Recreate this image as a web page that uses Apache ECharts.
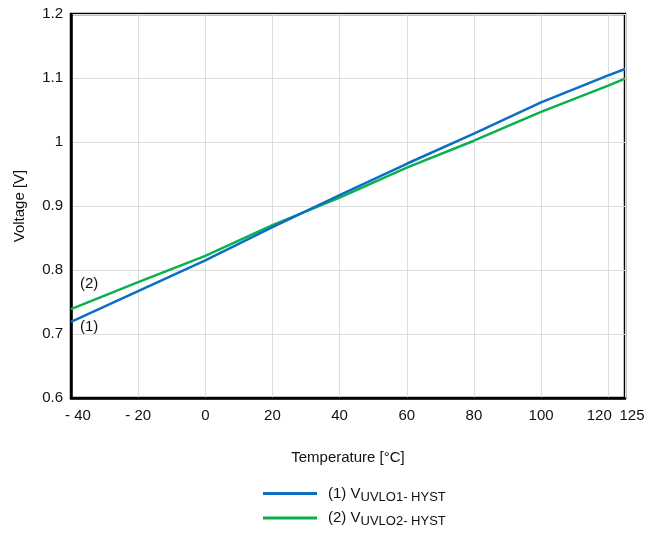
<!DOCTYPE html>
<html>
<head>
<meta charset="utf-8">
<script src="https://cdn.jsdelivr.net/npm/echarts@6/dist/echarts.min.js"></script>
<style>html,body{margin:0;padding:0;background:#fff;}#c{width:652px;height:537px;}</style>
</head>
<body>
<div id="c"></div>
<script>
const temps = [-40, -20, 0, 20, 40, 60, 80, 100, 120, 125];
const vUvlo1 = [0.719, 0.767, 0.815, 0.867, 0.917, 0.966, 1.013, 1.062, 1.104, 1.114];
const vUvlo2 = [0.739, 0.781, 0.822, 0.870, 0.913, 0.960, 1.002, 1.047, 1.088, 1.099];
const xTickLabels = [-40, -20, 0, 20, 40, 60, 80, 100, 120, 125];
const seriesNames = ['(1) V{s|UVLO1- HYST}', '(2) V{s|UVLO2- HYST}'];
const lineTags = ['(1)', '(2)'];

const FONT = 'Liberation Sans, Arial, sans-serif';

function buildData(vals, tag, offset) {
  return temps.map((t, i) => {
    const item = { value: [t, vals[i]] };
    if (i === 0) {
      item.label = { show: true, formatter: tag, position: 'right', offset: offset,
        fontFamily: FONT, fontSize: 15, color: '#111' };
    }
    return item;
  });
}

function xFmt(v) {
  const s = v < 0 ? '- ' + Math.abs(v) : String(v);
  if (v === -40) return '{l|' + s + '}';
  if (v === 120) return '{a|' + s + '}';
  if (v === 125) return '{b|' + s + '}';
  return s;
}

const lblBase = { fontFamily: FONT, fontSize: 15, color: '#111' };

const chart = echarts.init(document.getElementById('c'));
chart.setOption({
  animation: false,
  grid: { left: 71, right: 27, top: 14, bottom: 139, show: true, borderColor: '#000', borderWidth: 2.5, backgroundColor: 'transparent' },
  xAxis: {
    type: 'value', min: -40, max: 125, interval: 20,
    name: 'Temperature [°C]', nameLocation: 'middle', nameGap: 52,
    nameTextStyle: { fontFamily: FONT, fontSize: 15, color: '#111' },
    axisLine: { show: true, onZero: false, lineStyle: { color: '#000', width: 2.5 } },
    axisTick: { show: false },
    axisLabel: Object.assign({}, lblBase, { margin: 10, customValues: xTickLabels, formatter: xFmt,
      rich: {
        l: Object.assign({}, lblBase, { padding: [0, 0, 0, 14] }),
        a: Object.assign({}, lblBase, { padding: [0, 18, 0, 0] }),
        b: Object.assign({}, lblBase, { padding: [0, 0, 0, 14] })
      } }),
    splitLine: { show: true, lineStyle: { color: '#dddddd', width: 1 } }
  },
  yAxis: {
    type: 'value', min: 0.6, max: 1.2, interval: 0.1,
    name: 'Voltage [V]', nameLocation: 'middle', nameGap: 44,
    nameTextStyle: { fontFamily: FONT, fontSize: 15, color: '#111' },
    axisLine: { show: true, onZero: false, lineStyle: { color: '#000', width: 2.5 } },
    axisTick: { show: false },
    axisLabel: Object.assign({}, lblBase, { margin: 8,
      formatter: v => String(Math.round(v * 10) / 10) }),
    splitLine: { show: true, lineStyle: { color: '#dddddd', width: 1 } }
  },
  legend: {
    orient: 'vertical', left: 263, top: 486, itemGap: 7, padding: 0,
    icon: 'rect', itemWidth: 54, itemHeight: 3,
    data: seriesNames,
    formatter: n => n,
    textStyle: {
      fontFamily: FONT, fontSize: 15, color: '#111', padding: [0, 0, 0, 6],
      rich: { s: { fontFamily: FONT, fontSize: 13, color: '#111', padding: [7, 0, 0, 0] } }
    }
  },
  series: [
    { name: seriesNames[0], type: 'line', data: buildData(vUvlo1, lineTags[0], [4, 5]),
      symbol: 'circle', symbolSize: 0, showSymbol: true, smooth: false,
      lineStyle: { color: '#0A6EC4', width: 2.5 }, itemStyle: { color: '#0A6EC4' }, z: 3 },
    { name: seriesNames[1], type: 'line', data: buildData(vUvlo2, lineTags[1], [4, -25]),
      symbol: 'circle', symbolSize: 0, showSymbol: true, smooth: false,
      lineStyle: { color: '#0BB04E', width: 2.5 }, itemStyle: { color: '#0BB04E' }, z: 2 }
  ]
});
</script>
</body>
</html>
